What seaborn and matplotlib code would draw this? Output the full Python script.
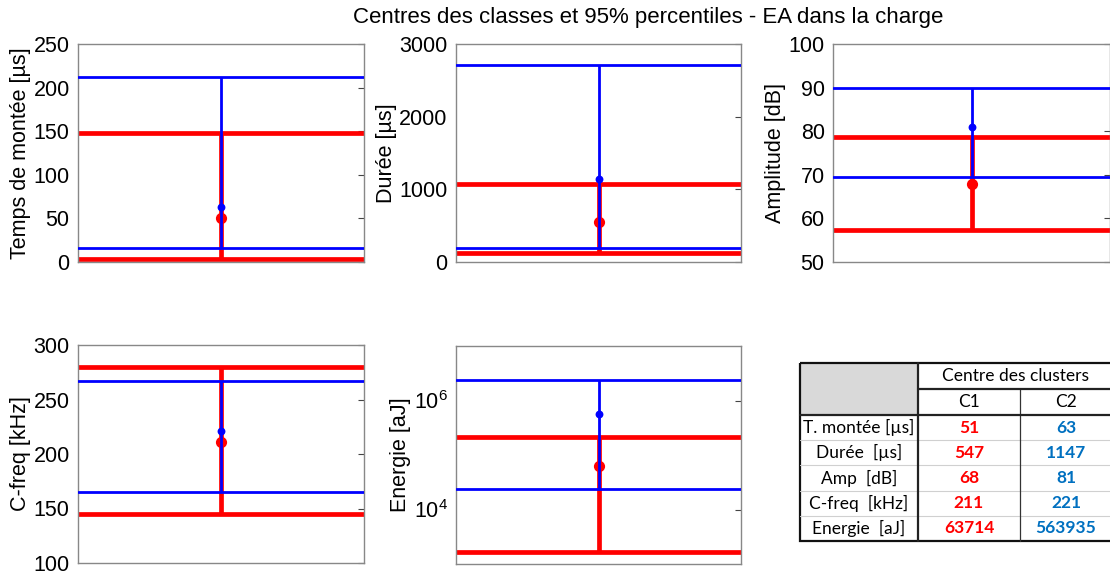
import matplotlib.pyplot as plt
import seaborn as sns
import numpy as np
import pandas as pd
from matplotlib.patches import Rectangle

# Données : centres des clusters et percentiles 95% (bas / haut)
parametres = ["Temps de montée [µs]", "Durée [µs]", "Amplitude [dB]", "C-freq [kHz]", "Energie [aJ]"]
centres_c1 = [51, 547, 68, 211, 63714]
centres_c2 = [63, 1147, 81, 221, 563935]
p_bas_c1 = [3, 125, 57.3, 145, 1630]
p_haut_c1 = [148, 1070, 78.6, 280, 212000]
p_bas_c2 = [16, 195, 69.5, 165, 23800]
p_haut_c2 = [212, 2710, 90, 267, 2380000]
limites_y = [(0, 250), (0, 3000), (50, 100), (100, 300), (1e3, 1e7)]
ticks_y = [[0, 50, 100, 150, 200, 250], [0, 1000, 2000, 3000], [50, 60, 70, 80, 90, 100],
           [100, 150, 200, 250, 300], [1e4, 1e6]]

# Tableau
lignes_tableau = ["T. montée [µs]", "Durée  [µs]", "Amp  [dB]", "C-freq  [kHz]", "Energie  [aJ]"]
clusters = ["C1", "C2"]

ROUGE = "#ff0000"
BLEU = "#0000ff"

sns.set_style("white")
plt.rcParams["font.family"] = ["Liberation Sans", "DejaVu Sans"]
plt.rcParams["mathtext.default"] = "regular"
plt.rcParams["text.color"] = "black"
plt.rcParams["axes.labelcolor"] = "black"
plt.rcParams["ytick.color"] = "black"

W, H = 1110, 575
fig = plt.figure(figsize=(W / 100, H / 100), dpi=100)


def px_axes(x0, y0, x1, y1):
    return fig.add_axes([x0 / W, 1 - y1 / H, (x1 - x0) / W, (y1 - y0) / H])


positions = [(78, 44, 364, 262), (456, 44, 741, 262), (833, 44, 1110, 262),
             (78, 345, 364, 563), (456, 346, 741, 564)]

for i, nom in enumerate(parametres):
    ax = px_axes(*positions[i])
    if i == 4:
        ax.set_yscale("log")
    # cluster 1 (rouge, épais)
    ax.axhline(p_bas_c1[i], color=ROUGE, lw=3.4, zorder=2)
    ax.axhline(p_haut_c1[i], color=ROUGE, lw=3.4, zorder=2)
    ax.vlines(0, p_bas_c1[i], p_haut_c1[i], color=ROUGE, lw=3.4, zorder=2)
    sns.scatterplot(x=[0], y=[centres_c1[i]], color=ROUGE, s=65, linewidth=0,
                    legend=False, ax=ax, zorder=2.5)
    # cluster 2 (bleu)
    ax.axhline(p_bas_c2[i], color=BLEU, lw=2, zorder=3)
    ax.axhline(p_haut_c2[i], color=BLEU, lw=2, zorder=3)
    ax.vlines(0, p_bas_c2[i], p_haut_c2[i], color=BLEU, lw=2, zorder=3)
    sns.scatterplot(x=[0], y=[centres_c2[i]], color=BLEU, s=32, linewidth=0,
                    legend=False, ax=ax, zorder=4)
    ax.set_xlim(-1, 1)
    ax.set_ylim(*limites_y[i])
    ax.set_yticks(ticks_y[i])
    ax.minorticks_off()
    ax.set_xticks([])
    ax.set_xlabel("")
    ax.set_ylabel(nom, fontsize=15.5, labelpad=2)
    ax.tick_params(axis="y", direction="in", right=True, length=4, labelsize=15.5,
                   color="#444444", pad=6)
    for s in ax.spines.values():
        s.set_color("#888888")
        s.set_linewidth(1)

fig.text(648 / W, 1 - 17 / H, "Centres des classes et 95% percentiles - EA dans la charge",
         ha="center", va="center", fontsize=16)

# Tableau dessiné en pixels
tx = fig.add_axes([0, 0, 1, 1], zorder=5)
tx.set_xlim(0, W)
tx.set_ylim(H, 0)
tx.axis("off")

cols = [800, 918, 1020, 1124]
rows = [363, 389, 415, 440.2, 465.4, 490.6, 515.8, 541]
police = ["Lato", "DejaVu Sans"]
fs_tab = 12.5

tx.add_patch(Rectangle((cols[0], rows[0]), cols[1] - cols[0], rows[2] - rows[0],
                       facecolor="#d9d9d9", edgecolor="none"))
# lignes fines entre les lignes de données
for y in rows[3:-1]:
    tx.plot([cols[0], cols[-1]], [y, y], color="#d0d0d0", lw=0.8)
tx.plot([cols[2], cols[2]], [rows[1], rows[-1]], color="#333333", lw=0.9)
tx.plot([cols[1], cols[-1]], [rows[1], rows[1]], color="#222222", lw=1.6)
tx.plot([cols[0], cols[-1]], [rows[2], rows[2]], color="#222222", lw=1.6)
tx.plot([cols[1], cols[1]], [rows[0], rows[-1]], color="#222222", lw=1.6)
tx.add_patch(Rectangle((cols[0], rows[0]), cols[-1] - cols[0], rows[-1] - rows[0],
                       facecolor="none", edgecolor="#111111", lw=1.6))

tx.text((cols[1] + cols[-1] - 12) / 2, (rows[0] + rows[1]) / 2, "Centre des clusters",
        ha="center", va="center", fontsize=fs_tab, family=police)
for j, c in enumerate(clusters):
    tx.text((cols[j + 1] + cols[j + 2] - (12 if j == 1 else 0)) / 2, (rows[1] + rows[2]) / 2, c,
            ha="center", va="center", fontsize=fs_tab, family=police)
for k, lab in enumerate(lignes_tableau):
    yc = (rows[k + 2] + rows[k + 3]) / 2
    tx.text((cols[0] + cols[1]) / 2, yc, lab, ha="center", va="center", fontsize=fs_tab,
            family=police)
    tx.text((cols[1] + cols[2]) / 2, yc, str(centres_c1[k]), ha="center", va="center",
            fontsize=fs_tab, fontweight="bold", color="#ff0000", family=police)
    tx.text((cols[2] + cols[3] - 12) / 2, yc, str(centres_c2[k]), ha="center", va="center",
            fontsize=fs_tab, fontweight="bold", color="#0070c0", family=police)

fig.savefig("out.png", dpi=100)
